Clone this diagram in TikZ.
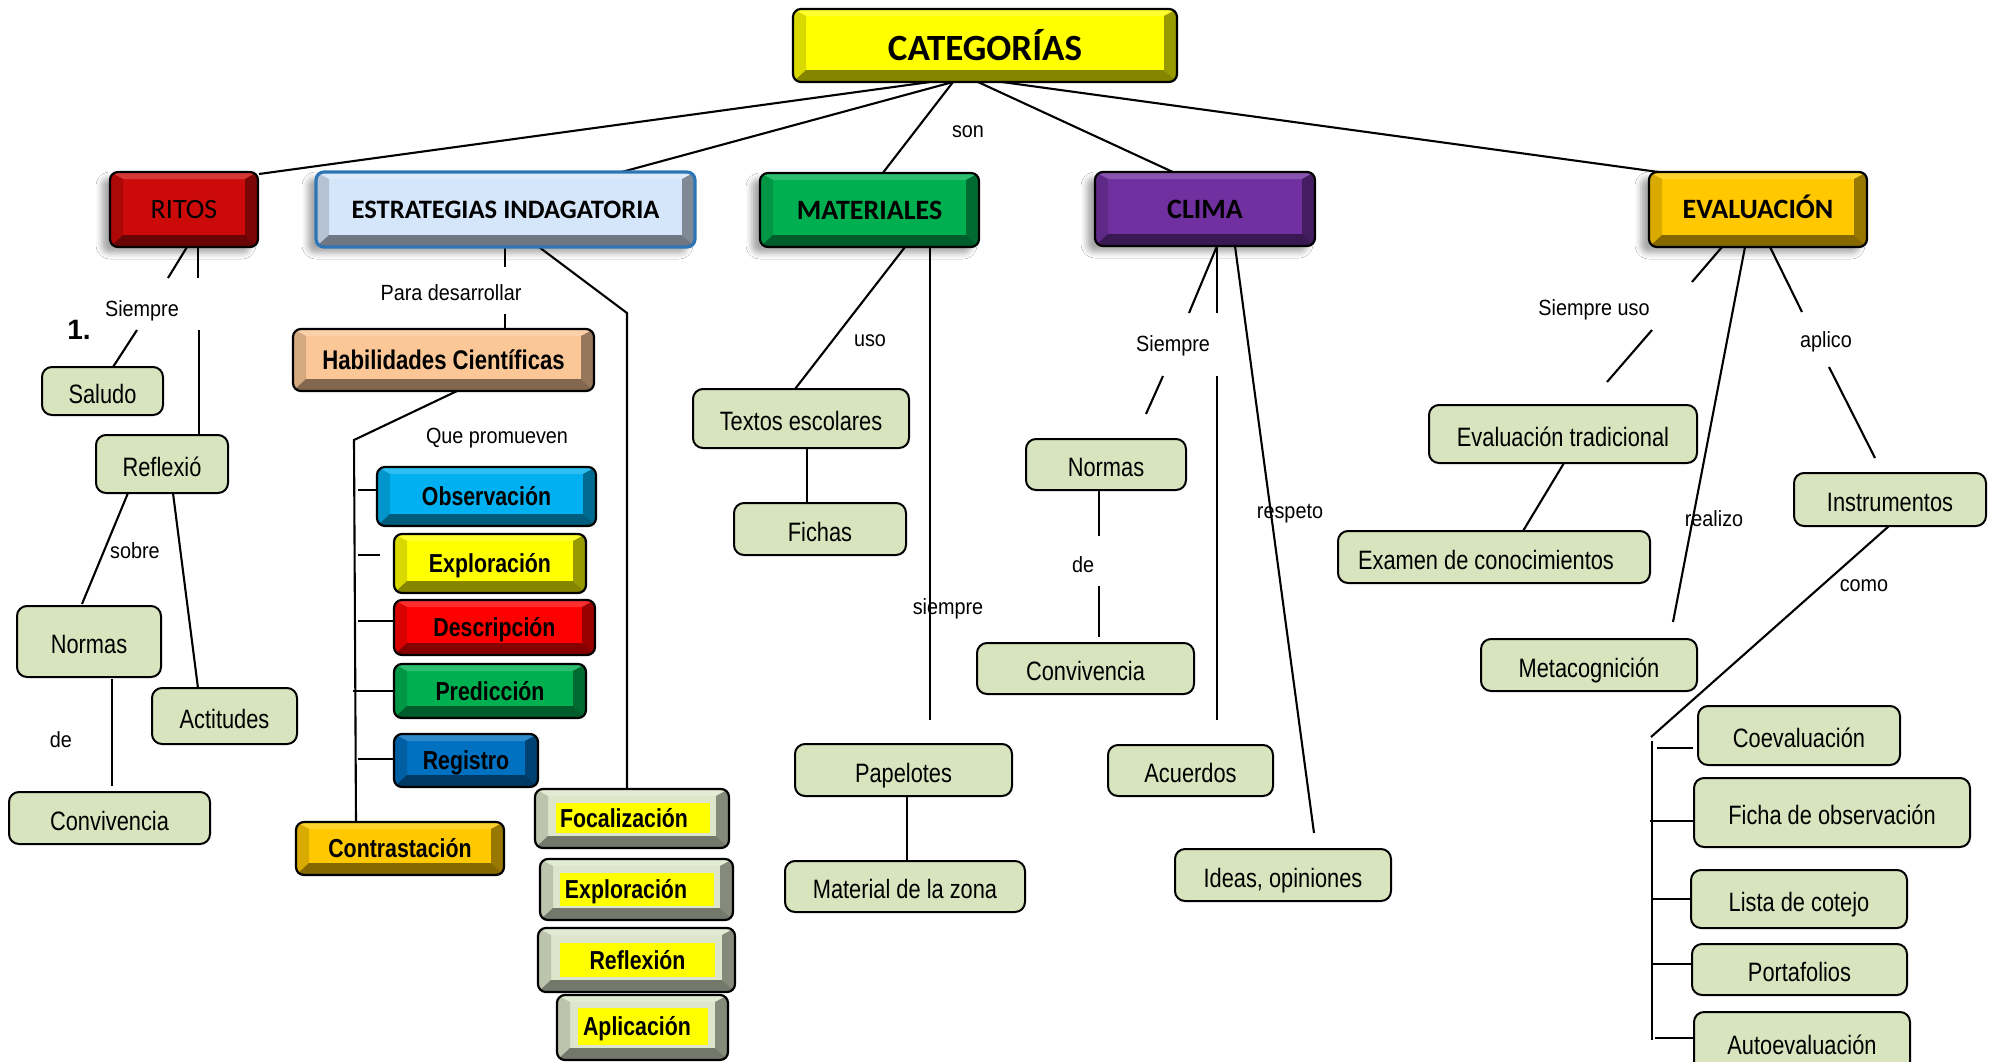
\documentclass[tikz,border=0pt]{standalone}
\usepackage{fontspec}
\setmainfont{Liberation Sans}
\newfontfamily\hdf{Carlito}
\newfontfamily\nrw[FakeStretch=0.82]{Liberation Sans}
\newfontfamily\lbf[FakeStretch=0.9]{Liberation Sans}
\usetikzlibrary{calc,shadows.blur}
\pgfdeclarelayer{bg}
\pgfsetlayers{bg,main}
\definecolor{cYel}{HTML}{FFFF00}
\definecolor{cRed}{HTML}{CC0A0A}
\definecolor{cLB}{HTML}{D5E5FA}
\definecolor{cBlueB}{HTML}{2E75B6}
\definecolor{cGrn}{HTML}{00B050}
\definecolor{cPur}{HTML}{7030A0}
\definecolor{cGold}{HTML}{FFC800}
\definecolor{cPeach}{HTML}{FBC797}
\definecolor{cCyan}{HTML}{00B0F0}
\definecolor{cRed2}{HTML}{FF0000}
\definecolor{cBlue}{HTML}{0070C0}
\definecolor{cGG}{HTML}{DDE6CB}
\definecolor{cBox}{HTML}{D7E4BD}
\def\bvl{6.5pt}\def\bvr{6.5pt}\def\bvt{3.5pt}\def\bvb{6pt}
\newcommand\padr[1]{\rule{#1}{0pt}}
\newcommand\mkbox[7]{%
  \expandafter\xdef\csname cx@#2\endcsname{((#3+#5)/2)}%
  \expandafter\xdef\csname cy@#2\endcsname{((#4+#6)/2)}%
  \node[#1, minimum width={(#5-#3)*0.5pt}, minimum height={(#6-#4)*0.5pt}] (#2) at ({(#3+#5)/2},{(#4+#6)/2}) {#7};}
\newcommand\mklab[5]{%
  \expandafter\xdef\csname cx@#2\endcsname{(#3)}%
  \expandafter\xdef\csname cy@#2\endcsname{(#4)}%
  \node[#1] (#2) at (#3,#4) {#5};}
\newcommand\NP[3]{([shift={({#2-\csname cx@#1\endcsname},{#3-\csname cy@#1\endcsname})}]#1.center)}
\tikzset{
 bev/.style={draw=black, line width=1.1pt, rounded corners=4pt, inner sep=0pt, outer sep=0pt,
   /utils/exec={\colorlet{bevc}{#1}}, fill=bevc,
   path picture={
     \coordinate (pNW) at (path picture bounding box.north west);
     \coordinate (pNE) at (path picture bounding box.north east);
     \coordinate (pSW) at (path picture bounding box.south west);
     \coordinate (pSE) at (path picture bounding box.south east);
     \coordinate (iNW) at ([shift={(\bvl,-\bvt)}]pNW);
     \coordinate (iNE) at ([shift={(-\bvr,-\bvt)}]pNE);
     \coordinate (iSW) at ([shift={(\bvl,\bvb)}]pSW);
     \coordinate (iSE) at ([shift={(-\bvr,\bvb)}]pSE);
     \fill[sharp corners, bevc!82!white] (pNW) -- (pNE) -- (iNE) -- (iNW) -- cycle;
     \fill[sharp corners, bevc!85!black] (pNW) -- (iNW) -- (iSW) -- (pSW) -- cycle;
     \fill[sharp corners, bevc!60!black] (pNE) -- (pSE) -- (iSE) -- (iNE) -- cycle;
     \fill[sharp corners, bevc!52!black] (pSW) -- (pSE) -- (iSE) -- (iSW) -- cycle;
   }},
 shd/.style={blur shadow={shadow xshift=-4pt, shadow yshift=-3pt, shadow blur radius=3pt, shadow opacity=35}},
 hfont/.style={font=\hdf\bfseries\fontsize{14}{16}\selectfont, text height=9pt, text depth=0pt},
 sk/.style={bev=#1, font=\nrw\bfseries\fontsize{13}{15}\selectfont, text height=9.3pt, text depth=0pt},
 yl/.style={fill=cYel, inner sep=0pt, outer sep=0pt, font=\nrw\bfseries\fontsize{13}{15}\selectfont, text height=9.3pt, text depth=0pt},
 gbox/.style={draw=black, line width=1pt, fill=cBox, rounded corners=5pt, inner sep=0pt, outer sep=0pt,
   font=\nrw\fontsize{13.3}{15}\selectfont, text height=12pt, text depth=0pt},
 lab/.style={inner sep=0pt, font=\lbf\fontsize{11}{13}\selectfont, text height=8pt, text depth=2pt},
 con/.style={draw=black, line width=1.05pt},
}
\begin{document}
\begin{tikzpicture}[x=0.5pt,y=-0.5pt]
\useasboundingbox (0,0) rectangle (1998,1061);
% header boxes
\mkbox{bev=cYel, font=\hdf\bfseries\fontsize{18.5}{20}\selectfont, text height=14.5pt, text depth=0pt}{cat}{793}{9}{1177}{82}{CATEGORÍAS}
\mkbox{bev=cRed, shd, font=\hdf\fontsize{14}{16}\selectfont, text height=9pt, text depth=0pt}{ritos}{110}{172}{258}{247}{RITOS}
\mkbox{bev=cLB, shd, draw=cBlueB, line width=1.6pt, hfont, font=\hdf\bfseries\fontsize{13.3}{15}\selectfont}{estr}{316}{172}{695}{247}{ESTRATEGIAS INDAGATORIA}
\mkbox{bev=cGrn, shd, hfont}{mat}{760}{173}{979}{247}{MATERIALES}
\mkbox{bev=cPur, shd, hfont}{clima}{1095}{172}{1315}{246}{CLIMA}
\mkbox{bev=cGold, shd, hfont}{eval}{1649}{172}{1867}{247}{EVALUACIÓN}
% skills
\mkbox{sk=cPeach, font=\nrw\bfseries\fontsize{13.5}{15}\selectfont}{hab}{293}{329}{594}{391}{Habilidades Científicas}
\mkbox{sk=cCyan}{obs}{377}{467}{596}{526}{Observación}
\mkbox{sk=cYel}{expl}{394}{534}{586}{593}{Exploración}
\mkbox{sk=cRed2}{desc}{394}{600}{595}{655}{Descripción}
\mkbox{sk=cGrn}{pred}{394}{664}{586}{718}{Predicción}
\mkbox{sk=cBlue}{reg}{394}{734}{538}{787}{Registro}
\mkbox{sk=cGold}{contr}{296}{822}{504}{875}{Contrastación}
% phases
\mkbox{bev=cGG}{foc}{535}{789}{729}{848}{}
\mkbox{yl}{focT}{556}{803}{710}{833}{Focalización\padr{9pt}}
\mkbox{bev=cGG}{expl2}{540}{859}{733}{920}{}
\mkbox{yl}{explT}{560}{873}{714}{906}{Exploración\padr{11pt}}
\mkbox{bev=cGG}{refl}{538}{928}{735}{992}{}
\mkbox{yl}{reflT}{560}{943}{715}{977}{Reflexión}
\mkbox{bev=cGG}{apl}{557}{995}{728}{1060}{}
\mkbox{yl}{aplT}{578}{1008}{708}{1045}{Aplicación\padr{6pt}}
% green concept boxes
\mkbox{gbox}{saludo}{42}{367}{163}{415}{Saludo}
\mkbox{gbox}{reflx}{96}{435}{228}{493}{Reflexió}
\mkbox{gbox}{normas1}{17}{606}{161}{677}{Normas}
\mkbox{gbox}{actit}{152}{688}{297}{744}{Actitudes}
\mkbox{gbox}{conv1}{9}{792}{210}{844}{Convivencia}
\mkbox{gbox}{textos}{693}{389}{909}{448}{Textos escolares}
\mkbox{gbox}{fichas}{734}{503}{906}{555}{Fichas}
\mkbox{gbox}{papel}{795}{744}{1012}{796}{Papelotes}
\mkbox{gbox}{matzona}{785}{861}{1025}{912}{Material de la zona}
\mkbox{gbox}{normas2}{1026}{439}{1186}{490}{Normas}
\mkbox{gbox}{conv2}{977}{643}{1194}{694}{Convivencia}
\mkbox{gbox}{acuer}{1108}{745}{1273}{796}{Acuerdos}
\mkbox{gbox}{ideas}{1175}{849}{1391}{901}{Ideas, opiniones}
\mkbox{gbox}{evtrad}{1429}{405}{1697}{463}{Evaluación tradicional}
\mkbox{gbox}{examen}{1338}{531}{1650}{583}{Examen de conocimientos\padr{8pt}}
\mkbox{gbox}{meta}{1481}{639}{1697}{691}{Metacognición}
\mkbox{gbox}{instr}{1794}{473}{1986}{526}{Instrumentos}
\mkbox{gbox}{coev}{1698}{706}{1900}{765}{Coevaluación}
\mkbox{gbox}{ficha}{1694}{778}{1970}{847}{Ficha de observación}
\mkbox{gbox}{lista}{1691}{870}{1907}{928}{Lista de cotejo}
\mkbox{gbox}{porta}{1692}{944}{1907}{995}{Portafolios}
\mkbox{gbox}{auto}{1694}{1012}{1910}{1072}{Autoevaluación}
% linking labels
\mklab{lab}{son}{968}{131}{son}
\mklab{lab}{siem1}{142}{310}{Siempre}
\mklab{lab, font=\bfseries\fontsize{14}{16}\selectfont, text height=10pt}{one}{79}{331}{1.}
\mklab{lab}{sobre}{135}{552}{sobre}
\mklab{lab}{de1}{61}{741}{de}
\mklab{lab}{para}{451}{294}{Para desarrollar}
\mklab{lab}{que}{497}{437}{Que promueven}
\mklab{lab}{uso}{870}{340}{uso}
\mklab{lab}{siem2}{948}{608}{siempre}
\mklab{lab}{siem3}{1173}{345}{Siempre}
\mklab{lab}{de2}{1083}{566}{de}
\mklab{lab}{resp}{1290}{512}{respeto}
\mklab{lab}{siemuso}{1594}{309}{Siempre uso}
\mklab{lab}{realizo}{1714}{520}{realizo}
\mklab{lab}{aplico}{1826}{341}{aplico}
\mklab{lab}{como}{1864}{585}{como}
% connectors
\begin{pgfonlayer}{bg}
\fill[white] (0,0) rectangle (1998,1061);
\draw[con] \NP{cat}{930}{82} -- \NP{ritos}{259}{174};
\draw[con] \NP{cat}{953}{82} -- \NP{estr}{618}{173};
\draw[con] \NP{cat}{953}{82} -- \NP{mat}{882}{174};
\draw[con] \NP{cat}{978}{82} -- \NP{clima}{1175}{173};
\draw[con] \NP{cat}{1002}{82} -- \NP{eval}{1673}{174};
% ritos
\draw[con] \NP{ritos}{187}{247} -- \NP{siem1}{168}{278};
\draw[con] \NP{siem1}{137}{330} -- \NP{saludo}{113}{367};
\draw[con] \NP{ritos}{198}{247} -- \NP{siem1}{198}{278};
\draw[con] \NP{siem1}{199}{330} -- \NP{reflx}{199}{435};
\draw[con] \NP{reflx}{128}{493} -- \NP{normas1}{82}{604};
\draw[con] \NP{reflx}{173}{493} -- \NP{actit}{198}{688};
\draw[con] \NP{normas1}{112}{679} -- \NP{conv1}{112}{786};
% estrategias
\draw[con] \NP{estr}{505}{247} -- \NP{para}{505}{267};
\draw[con] \NP{para}{505}{314} -- \NP{hab}{505}{329};
\draw[con] \NP{estr}{539}{247} -- \NP{foc}{627}{313} -- \NP{foc}{627}{789};
\draw[con] \NP{hab}{457}{391} -- \NP{contr}{354}{440} -- \NP{contr}{356}{822};
\draw[con] \NP{obs}{358}{490} -- \NP{obs}{377}{490};
\draw[con] \NP{expl}{358}{555} -- \NP{expl}{380}{555};
\draw[con] \NP{desc}{358}{621} -- \NP{desc}{394}{621};
\draw[con] \NP{pred}{353}{691} -- \NP{pred}{394}{691};
\draw[con] \NP{reg}{358}{759} -- \NP{reg}{394}{759};
% materiales
\draw[con] \NP{mat}{905}{247} -- \NP{textos}{795}{389};
\draw[con] \NP{textos}{807}{448} -- \NP{fichas}{807}{503};
\draw[con] \NP{mat}{930}{247} -- \NP{papel}{930}{720};
\draw[con] \NP{papel}{907}{796} -- \NP{matzona}{907}{861};
% clima
\draw[con] \NP{clima}{1217}{246} -- \NP{siem3}{1189}{313};
\draw[con] \NP{siem3}{1163}{376} -- \NP{normas2}{1146}{414};
\draw[con] \NP{clima}{1217}{246} -- \NP{siem3}{1217}{313};
\draw[con] \NP{siem3}{1217}{376} -- \NP{acuer}{1217}{720};
\draw[con] \NP{clima}{1235}{246} -- \NP{ideas}{1314}{833};
\draw[con] \NP{normas2}{1099}{490} -- \NP{de2}{1099}{536};
\draw[con] \NP{de2}{1099}{586} -- \NP{conv2}{1099}{637};
% evaluacion
\draw[con] \NP{eval}{1722}{247} -- \NP{siemuso}{1692}{282};
\draw[con] \NP{siemuso}{1652}{330} -- \NP{evtrad}{1607}{382};
\draw[con] \NP{eval}{1745}{247} -- \NP{meta}{1673}{622};
\draw[con] \NP{eval}{1770}{247} -- \NP{aplico}{1802}{312};
\draw[con] \NP{aplico}{1829}{367} -- \NP{instr}{1875}{458};
\draw[con] \NP{evtrad}{1564}{463} -- \NP{examen}{1523}{531};
\draw[con] \NP{instr}{1889}{526} -- \NP{coev}{1651}{737};
\draw[con] \NP{coev}{1652}{741} -- \NP{auto}{1652}{1040};
\draw[con] \NP{coev}{1657}{748} -- \NP{coev}{1693}{748};
\draw[con] \NP{ficha}{1650}{821} -- \NP{ficha}{1694}{821};
\draw[con] \NP{lista}{1652}{899} -- \NP{lista}{1691}{899};
\draw[con] \NP{porta}{1652}{964} -- \NP{porta}{1692}{964};
\draw[con] \NP{auto}{1655}{1038} -- \NP{auto}{1694}{1038};
\end{pgfonlayer}
\end{tikzpicture}
\end{document}
